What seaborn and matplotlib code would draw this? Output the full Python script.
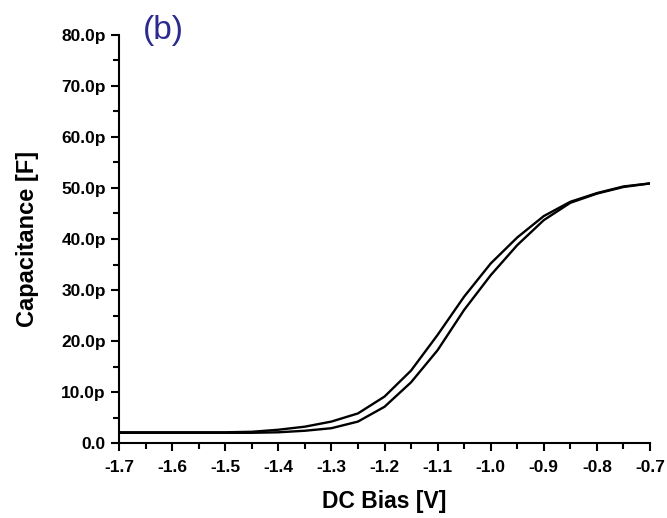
import numpy as np
import pandas as pd
import matplotlib
matplotlib.use("Agg")
import matplotlib.pyplot as plt
from matplotlib.ticker import MultipleLocator, FuncFormatter
import seaborn as sns

# C-V sweep data (bias in V, capacitance in pF)
bias_v = [-1.70, -1.65, -1.60, -1.55, -1.50, -1.45, -1.40, -1.35, -1.30, -1.25,
          -1.20, -1.15, -1.10, -1.05, -1.00, -0.95, -0.90, -0.85, -0.80, -0.75, -0.70]
cap_sweep_a = [2.1, 2.1, 2.1, 2.1, 2.1, 2.2, 2.6, 3.2, 4.2, 5.8,
               9.1, 14.2, 21.2, 28.7, 35.2, 40.3, 44.5, 47.3, 49.0, 50.3, 50.9]
cap_sweep_b = [2.0, 2.0, 2.0, 2.0, 2.0, 2.0, 2.1, 2.4, 2.9, 4.2,
               7.1, 11.9, 18.2, 26.1, 32.9, 38.8, 43.7, 47.1, 48.9, 50.2, 50.9]

x_ticks = [-1.7, -1.6, -1.5, -1.4, -1.3, -1.2, -1.1, -1.0, -0.9, -0.8, -0.7]
y_ticks = [0, 10, 20, 30, 40, 50, 60, 70, 80]

df = pd.concat([
    pd.DataFrame({"bias": bias_v, "cap": cap_sweep_a, "sweep": "a"}),
    pd.DataFrame({"bias": bias_v, "cap": cap_sweep_b, "sweep": "b"}),
], ignore_index=True)

sns.set_style("ticks")
plt.rcParams["font.family"] = ["Liberation Sans", "DejaVu Sans"]
plt.rcParams["text.color"] = "black"
plt.rcParams["axes.labelcolor"] = "black"

fig = plt.figure(figsize=(6.67, 5.18), dpi=100)
ax = fig.add_axes([119 / 667, 1 - 443 / 518, (650 - 119) / 667, (443 - 35) / 518])

sns.lineplot(data=df, x="bias", y="cap", hue="sweep", palette=["black", "black"],
             estimator=None, sort=False, linewidth=1.7, legend=False, ax=ax)

ax.set_xlim(-1.7, -0.7)
ax.set_ylim(0, 80)
ax.set_xticks(x_ticks)
ax.set_yticks(y_ticks)
ax.xaxis.set_minor_locator(MultipleLocator(0.05))
ax.yaxis.set_minor_locator(MultipleLocator(5))
ax.xaxis.set_major_formatter(FuncFormatter(lambda v, p: f"{v:.1f}"))
ax.yaxis.set_major_formatter(FuncFormatter(lambda v, p: "0.0" if abs(v) < 1e-9 else f"{v:.1f}p"))

for s in ["top", "right"]:
    ax.spines[s].set_visible(False)
for s in ["left", "bottom"]:
    ax.spines[s].set_linewidth(1.5)
    ax.spines[s].set_color("black")

ax.tick_params(which="major", direction="out", length=6, width=1.5, colors="black",
               labelsize=12.5)
ax.tick_params(axis="x", which="major", pad=6)
ax.tick_params(which="minor", direction="out", length=4, width=1.5, colors="black")
for lbl in ax.get_xticklabels() + ax.get_yticklabels():
    lbl.set_fontweight("bold")

ax.set_xlabel("DC Bias [V]", fontsize=16.5, fontweight="bold", labelpad=11)
ax.set_ylabel("Capacitance [F]", fontsize=17, fontweight="bold", labelpad=16)

fig.text(143 / 667, 1 - 30 / 518, "(b)", fontsize=24, color="#2b2b8f",
         ha="left", va="center")

fig.savefig("out.png", dpi=100, facecolor="white")
